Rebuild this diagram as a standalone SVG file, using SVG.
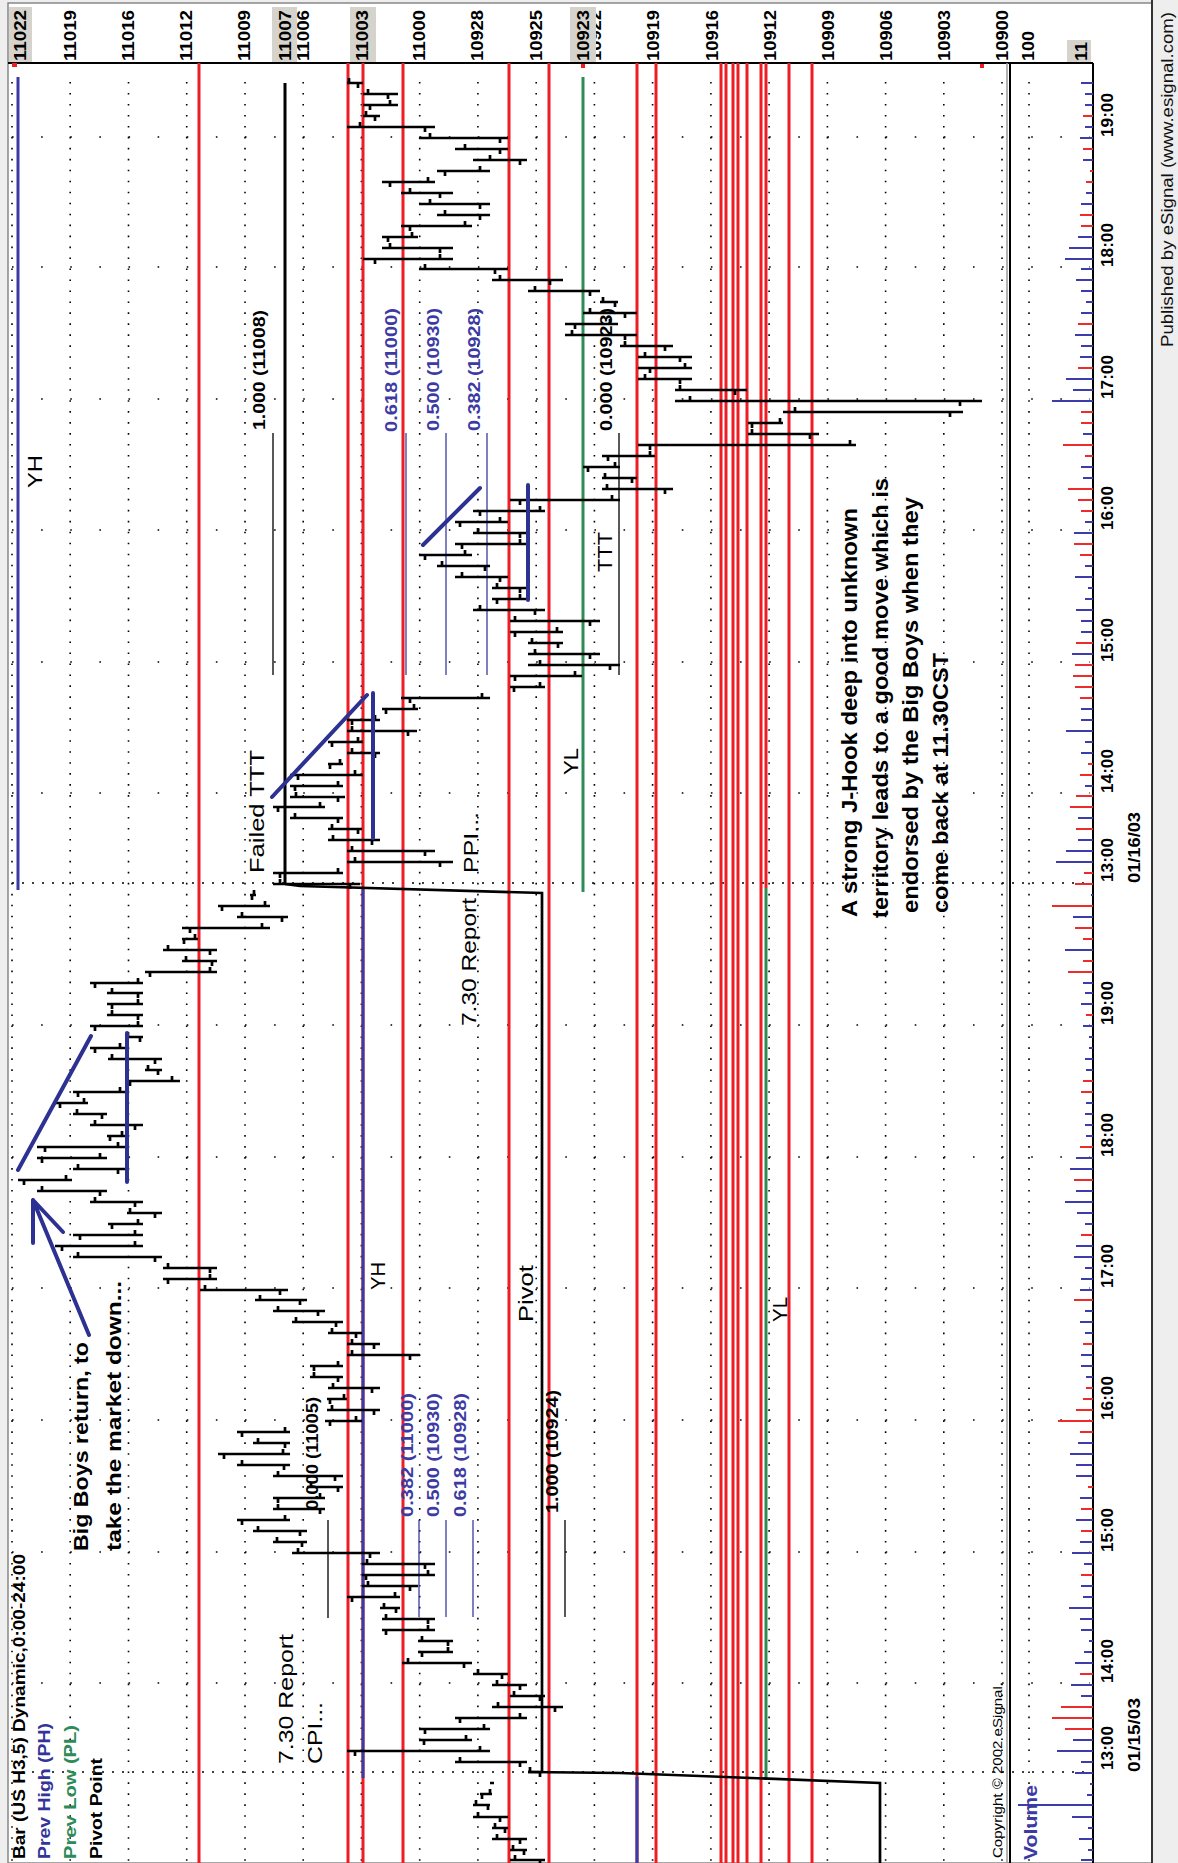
<svg xmlns="http://www.w3.org/2000/svg" width="1178" height="1863" viewBox="0 0 1178 1863">
<style>
.t{font-family:"Liberation Sans",Arial,sans-serif}
.b{font-weight:bold}
.ax{font-family:"Liberation Sans",Arial,sans-serif;font-weight:bold;font-size:17px;fill:#000}
.dots{stroke:#000;stroke-width:1.6;stroke-dasharray:1.6 9.37;fill:none}
.hr{stroke:#000;stroke-width:1.6;stroke-dasharray:1.6 27.52;fill:none}
.ses{stroke:#000;stroke-width:1.6;stroke-dasharray:2 8;fill:none}
.red{stroke:#ee1c25;stroke-width:3;fill:none}
.yh{stroke:#3b3ba3;stroke-width:3;fill:none}
.yl{stroke:#2e8b57;stroke-width:3;fill:none}
.bar{stroke:#000;stroke-width:2.7;fill:none}
.piv{stroke:#000;stroke-width:3;fill:none}
.fb{stroke:#3b3ba3;stroke-width:1.3;fill:none}
.fk{stroke:#000;stroke-width:1.3;fill:none}
.an{stroke:#2d3192;stroke-width:4;fill:none;stroke-linecap:round}
.vb{stroke:#3c3caa;stroke-width:2;fill:none}
.vr{stroke:#ee2b2b;stroke-width:2;fill:none}
.hl{fill:#d6d3cc}
</style>
<rect x="0" y="0" width="1178" height="1863" fill="#eeeeee"/>
<rect x="8" y="3" width="1144" height="1860" fill="#ffffff" stroke="#888" stroke-width="1.5"/>
<line x1="1152" y1="0" x2="1152" y2="1863" stroke="#333" stroke-width="2"/>

<g id="grid">
<path class="dots" d="M12 82V1863M70.2 82V1863M128.5 82V1863M186.7 82V1863M245 82V1863M303.2 82V1863M361.4 82V1863M419.7 82V1863M477.9 82V1863M536.2 82V1863M594.4 82V1863M652.6 82V1863M710.9 82V1863M769.1 82V1863M827.4 82V1863M885.6 82V1863M943.8 82V1863M1002 82V1863M1029 82V1863"/>
<path class="hr" d="M12 137H1090M12 267H1090M12 399H1090M12 530H1090M12 662H1090M12 793H1090M12 1025H1090M12 1157H1090M12 1288H1090M12 1420H1090M12 1552H1090M12 1683H1090"/>
<path class="ses" d="M12 883H1093M12 1772H1093"/>
</g>

<g id="panel-frame">
<line x1="8" y1="63" x2="1093" y2="63" stroke="#000" stroke-width="1.8"/>
<line x1="1007" y1="63" x2="1007" y2="1863" stroke="#999" stroke-width="1.5"/>
<line x1="1010" y1="63" x2="1010" y2="1863" stroke="#000" stroke-width="2"/>
<line x1="1093" y1="63" x2="1093" y2="1863" stroke="#000" stroke-width="2"/>
</g>

<g id="price-axis">
<rect class="hl" x="9" y="7" width="23" height="55"/>
<rect class="hl" x="350" y="7" width="26" height="55"/>
<rect class="hl" x="1067" y="40" width="24" height="22"/>
<text class="ax" transform="translate(26,61) rotate(-90)" textLength="51" lengthAdjust="spacingAndGlyphs">11022</text>
<text class="ax" transform="translate(76,61) rotate(-90)" textLength="51" lengthAdjust="spacingAndGlyphs">11019</text>
<text class="ax" transform="translate(134,61) rotate(-90)" textLength="51" lengthAdjust="spacingAndGlyphs">11016</text>
<text class="ax" transform="translate(192,61) rotate(-90)" textLength="51" lengthAdjust="spacingAndGlyphs">11012</text>
<text class="ax" transform="translate(250,61) rotate(-90)" textLength="51" lengthAdjust="spacingAndGlyphs">11009</text>
<text class="ax" transform="translate(309,61) rotate(-90)" textLength="51" lengthAdjust="spacingAndGlyphs">11006</text>
<rect class="hl" x="272" y="7" width="25" height="55"/>
<text class="ax" transform="translate(291,61) rotate(-90)" textLength="51" lengthAdjust="spacingAndGlyphs">11007</text>
<text class="ax" transform="translate(368,61) rotate(-90)" textLength="51" lengthAdjust="spacingAndGlyphs">11003</text>
<text class="ax" transform="translate(425,61) rotate(-90)" textLength="51" lengthAdjust="spacingAndGlyphs">11000</text>
<text class="ax" transform="translate(483,61) rotate(-90)" textLength="51" lengthAdjust="spacingAndGlyphs">10928</text>
<text class="ax" transform="translate(542,61) rotate(-90)" textLength="51" lengthAdjust="spacingAndGlyphs">10925</text>
<text class="ax" transform="translate(601,61) rotate(-90)" textLength="51" lengthAdjust="spacingAndGlyphs">10922</text>
<rect class="hl" x="570" y="7" width="26" height="55"/>
<text class="ax" transform="translate(589,61) rotate(-90)" textLength="51" lengthAdjust="spacingAndGlyphs">10923</text>
<text class="ax" transform="translate(659,61) rotate(-90)" textLength="51" lengthAdjust="spacingAndGlyphs">10919</text>
<text class="ax" transform="translate(718,61) rotate(-90)" textLength="51" lengthAdjust="spacingAndGlyphs">10916</text>
<text class="ax" transform="translate(776,61) rotate(-90)" textLength="51" lengthAdjust="spacingAndGlyphs">10912</text>
<text class="ax" transform="translate(834,61) rotate(-90)" textLength="51" lengthAdjust="spacingAndGlyphs">10909</text>
<text class="ax" transform="translate(892,61) rotate(-90)" textLength="51" lengthAdjust="spacingAndGlyphs">10906</text>
<text class="ax" transform="translate(950,61) rotate(-90)" textLength="51" lengthAdjust="spacingAndGlyphs">10903</text>
<text class="ax" transform="translate(1008,61) rotate(-90)" textLength="51" lengthAdjust="spacingAndGlyphs">10900</text>
<text class="ax" transform="translate(1034,61) rotate(-90)" textLength="30" lengthAdjust="spacingAndGlyphs">100</text>
<text class="ax" transform="translate(1087,61) rotate(-90)" textLength="19" lengthAdjust="spacingAndGlyphs">11</text>
<rect x="12" y="63" width="5" height="4" fill="#ee1c25"/>
<rect x="581" y="64" width="4" height="4" fill="#ee1c25"/>
<rect x="980" y="64" width="4" height="4" fill="#ee1c25"/>
</g>

<g id="levels">
<path class="red" d="M199 63V1863M348 63V1863M363 63V1863M403 63V1863M509 63V1863M549 63V1863M637 63V1863M656 63V1863M721 63V1863M726 63V1863M733 63V1863M738 63V1863M747 63V1863M789 63V1863"/>
<path class="red" stroke-width="4" d="M761 63V1863M812 63V1863"/>
<path class="red" d="M766 63V888"/>
<path class="yh" d="M18 77V890M363 888V1778"/>
<path class="yh" stroke-width="4" d="M637 1777V1863"/>
<path class="yl" d="M583 77V892M766 888V1780"/>
<path class="piv" d="M285 83V884"/>
<path class="bar" d="M285 884L300 886L542 893V1772"/>
<path class="bar" d="M528 1772L620 1773L700 1776L880 1783V1863"/>
</g>

<g id="fib">
<path class="fk" d="M273 433V675M619 433V675M328 1520V1618M565 1520V1617"/>
<path class="fb" d="M406 433V675M446 433V675M487 433V675M419 1520V1617M446 1520V1617M473 1520V1617"/>
</g>

<g id="volume">
<path class="vb" d="M1093 83h-12M1093 94h-8M1093 105h-8M1093 127h-8M1093 138h-13M1093 160h-10M1093 193h-7M1093 204h-12M1093 237h-15M1093 248h-24M1093 259h-28M1093 269h-12M1093 280h-17M1093 291h-12M1093 302h-7M1093 313h-12M1093 335h-18M1093 346h-12M1093 357h-13M1093 379h-27M1093 390h-20M1093 401h-41M1093 434h-10M1093 467h-12M1093 478h-10M1093 522h-8M1093 533h-19M1093 566h-8M1093 577h-18M1093 588h-5M1093 599h-8M1093 610h-17M1093 621h-12M1093 632h-12M1093 654h-21M1093 709h-12M1093 720h-12M1093 731h-27M1093 742h-8M1093 753h-12M1093 786h-8M1093 818h-15M1093 840h-15M1093 851h-27M1093 862h-37M1093 895h-2M1093 917h-20M1093 950h-28M1093 983h-10M1093 993h-8M1093 1004h-12M1093 1026h-10M1093 1037h-4M1093 1048h-4M1093 1059h-8M1093 1070h-7M1093 1103h-7M1093 1114h-8M1093 1125h-8M1093 1136h-7M1093 1158h-17M1093 1169h-23M1093 1191h-17M1093 1202h-28M1093 1213h-16M1093 1224h-8M1093 1246h-17M1093 1257h-19M1093 1268h-8M1093 1279h-12M1093 1290h-13M1093 1311h-8M1093 1322h-13M1093 1333h-8M1093 1355h-12M1093 1366h-12M1093 1377h-7M1093 1443h-15M1093 1454h-23M1093 1465h-17M1093 1476h-17M1093 1498h-13M1093 1520h-17M1093 1542h-13M1093 1553h-21M1093 1564h-9M1093 1586h-12M1093 1597h-10M1093 1608h-24M1093 1619h-13M1093 1630h-12M1093 1641h-4M1093 1652h-9M1093 1663h-18M1093 1685h-22M1093 1696h-12M1093 1740h-20M1093 1751h-36M1093 1762h-12M1093 1773h-18M1093 1784h-3M1093 1795h-6M1093 1805h-75M1093 1817h-21M1093 1828h-5M1093 1839h-14M1093 1850h-5M1093 1860h-12"/>
<path class="vr" d="M1093 116h-10M1093 149h-10M1093 171h-3M1093 182h-7M1093 215h-13M1093 226h-12M1093 324h-15M1093 368h-15M1093 412h-12M1093 423h-12M1093 445h-30M1093 456h-8M1093 489h-25M1093 500h-15M1093 511h-12M1093 544h-19M1093 555h-13M1093 643h-17M1093 665h-18M1093 676h-20M1093 687h-18M1093 698h-13M1093 764h-5M1093 775h-13M1093 796h-17M1093 807h-23M1093 829h-17M1093 873h-9M1093 884h-18M1093 906h-41M1093 928h-18M1093 939h-10M1093 961h-10M1093 972h-25M1093 1015h-7M1093 1081h-10M1093 1092h-12M1093 1147h-13M1093 1180h-19M1093 1235h-12M1093 1300h-19M1093 1344h-10M1093 1388h-7M1093 1399h-10M1093 1410h-17M1093 1421h-35M1093 1432h-13M1093 1487h-5M1093 1509h-12M1093 1531h-12M1093 1575h-12M1093 1674h-13M1093 1707h-32M1093 1718h-41M1093 1729h-28"/>
</g>

<g id="bars">
<path class="bar" d="M347 83H363M358 83v5M349 83v-5M363 94H398M388 94v5M368 94v-5M363 105H398M370 105v5M390 105v-5M363 116H380M375 116v5M366 116v-5M347 127H435M425 127v5M360 127v-5M419 138H508M500 138v5M430 138v-5M455 149H508M500 149v5M465 149v-5M473 160H527M520 160v5M490 160v-5M437 171H490M445 171v5M480 171v-5M382 182H435M390 182v5M428 182v-5M401 193H453M440 193v5M410 193v-5M419 204H490M480 204v5M430 204v-5M437 215H490M480 215v5M445 215v-5M401 226H472M410 226v5M465 226v-5M382 237H418M388 237v5M412 237v-5M382 248H453M440 248v5M390 248v-5M363 259H453M375 259v5M440 259v-5M419 269H508M495 269v5M425 269v-5M492 280H563M550 280v5M500 280v-5M528 291H600M590 291v5M535 291v-5M600 302H618M615 302v5M603 302v-5M583 313H637M625 313v5M590 313v-5M565 324H618M575 324v5M610 324v-5M565 335H637M625 335v5M572 335v-5M620 346H673M665 346v5M625 346v-5M638 357H692M680 357v5M645 357v-5M638 368H692M650 368v5M685 368v-5M638 379H692M680 379v5M645 379v-5M675 390H747M735 390v5M680 390v-5M675 401H982M960 401v5M690 401v-5M783 412H963M950 412v5M795 412v-5M748 423H783M752 423v5M780 423v-5M748 434H819M810 434v5M752 434v-5M638 445H856M650 445v5M850 445v-5M602 456H655M608 456v5M650 456v-5M583 467H620M588 467v5M615 467v-5M602 478H637M632 478v5M605 478v-5M602 489H673M665 489v5M607 489v-5M510 500H620M520 500v5M612 500v-5M473 511H545M480 511v5M540 511v-5M455 522H508M460 522v5M500 522v-5M473 533H527M520 533v5M478 533v-5M455 544H527M462 544v5M520 544v-5M419 555H472M425 555v5M465 555v-5M437 566H490M485 566v5M442 566v-5M455 577H508M500 577v5M462 577v-5M492 588H527M520 588v5M497 588v-5M492 599H527M497 599v5M520 599v-5M473 610H545M535 610v5M480 610v-5M510 621H600M590 621v5M515 621v-5M510 632H563M515 632v5M557 632v-5M528 643H563M558 643v5M532 643v-5M528 654H600M590 654v5M535 654v-5M528 665H620M610 665v5M540 665v-5M510 676H582M515 676v5M575 676v-5M510 687H545M514 687v5M540 687v-5M401 698H490M410 698v5M482 698v-5M382 709H418M386 709v5M414 709v-5M347 720H380M352 720v5M375 720v-5M347 731H417M408 731v5M352 731v-5M328 742H363M332 742v5M358 742v-5M347 753H380M375 753v5M352 753v-5M328 764H343M330 764v5M340 764v-5M290 775H363M298 775v5M355 775v-5M290 786H343M295 786v5M338 786v-5M290 797H345M338 797v5M296 797v-5M273 807H325M278 807v5M320 807v-5M290 818H343M338 818v5M295 818v-5M328 829H362M358 829v5M332 829v-5M328 840H380M372 840v5M333 840v-5M347 851H435M425 851v5M352 851v-5M347 862H453M440 862v5M355 862v-5M273 873H343M280 873v5M338 873v-5M273 884H360M350 884v5M280 884v-5"/>
<path class="bar" d="M250 895H256M252 895v5M254 895v-5M218 906H270M222 906v5M265 906v-5M237 917H288M282 917v5M242 917v-5M182 928H270M190 928v5M262 928v-5M182 939H198M184 939v5M195 939v-5M163 950H217M210 950v5M168 950v-5M182 961H217M212 961v5M186 961v-5M145 972H217M150 972v5M210 972v-5M90 983H143M95 983v5M138 983v-5M107 993H143M138 993v5M112 993v-5M107 1004H143M112 1004v5M138 1004v-5M107 1015H143M138 1015v5M112 1015v-5M90 1026H143M95 1026v5M138 1026v-5M125 1037H143M140 1037v5M128 1037v-5M90 1048H125M95 1048v5M120 1048v-5M108 1059H162M155 1059v5M112 1059v-5M145 1070H162M158 1070v5M148 1070v-5M125 1081H180M130 1081v5M172 1081v-5M73 1092H125M78 1092v5M120 1092v-5M55 1103H88M60 1103v5M84 1103v-5M73 1114H107M102 1114v5M77 1114v-5M90 1125H143M135 1125v5M95 1125v-5M107 1136H125M110 1136v5M122 1136v-5M37 1147H125M45 1147v5M118 1147v-5M37 1158H107M42 1158v5M100 1158v-5M73 1169H125M118 1169v5M78 1169v-5M18 1180H72M24 1180v5M66 1180v-5M37 1191H107M100 1191v5M42 1191v-5M90 1202H143M135 1202v5M95 1202v-5M127 1213H162M155 1213v5M130 1213v-5M108 1224H143M112 1224v5M138 1224v-5M73 1235H143M80 1235v5M135 1235v-5M55 1246H143M62 1246v5M135 1246v-5M73 1257H162M155 1257v5M78 1257v-5M163 1268H217M210 1268v5M168 1268v-5M163 1279H217M168 1279v5M210 1279v-5M200 1290H288M280 1290v5M205 1290v-5M255 1300H307M300 1300v5M260 1300v-5M273 1311H325M318 1311v5M278 1311v-5M292 1322H343M336 1322v5M296 1322v-5M328 1333H362M356 1333v5M332 1333v-5M347 1344H380M374 1344v5M352 1344v-5M347 1355H420M410 1355v5M352 1355v-5M310 1366H343M314 1366v5M338 1366v-5M310 1377H343M338 1377v5M314 1377v-5M328 1388H380M372 1388v5M333 1388v-5M327 1399H347M330 1399v5M344 1399v-5M327 1410H380M374 1410v5M332 1410v-5M325 1421H362M330 1421v5M356 1421v-5M237 1432H290M242 1432v5M285 1432v-5M253 1443H290M285 1443v5M258 1443v-5M218 1454H290M224 1454v5M283 1454v-5M237 1465H290M284 1465v5M242 1465v-5M273 1476H343M335 1476v5M278 1476v-5M307 1487H343M338 1487v5M311 1487v-5M273 1498H325M278 1498v5M320 1498v-5M273 1509H325M320 1509v5M278 1509v-5M237 1520H290M242 1520v5M285 1520v-5M253 1531H307M300 1531v5M258 1531v-5M273 1542H307M302 1542v5M277 1542v-5M292 1553H380M370 1553v5M298 1553v-5M362 1564H435M425 1564v5M367 1564v-5M362 1575H435M366 1575v5M428 1575v-5M362 1586H418M410 1586v5M368 1586v-5M347 1597H400M352 1597v5M395 1597v-5M380 1608H400M396 1608v5M384 1608v-5M382 1619H435M428 1619v5M386 1619v-5M382 1630H435M386 1630v5M428 1630v-5M418 1641H453M448 1641v5M422 1641v-5M418 1652H453M422 1652v5M448 1652v-5M402 1663H472M464 1663v5M408 1663v-5M473 1674H508M502 1674v5M478 1674v-5M492 1685H527M520 1685v5M497 1685v-5M510 1696H545M540 1696v5M514 1696v-5M492 1707H563M555 1707v5M498 1707v-5M455 1718H527M460 1718v5M520 1718v-5M419 1729H490M425 1729v5M484 1729v-5M419 1740H472M424 1740v5M466 1740v-5M347 1751H490M355 1751v5M480 1751v-5M455 1762H527M520 1762v5M460 1762v-5M528 1772H542M540 1772v5M530 1772v-5"/>
<path class="bar" d="M490 1783H494M480 1794H492M482 1794v5M490 1794v-5M473 1805H490M488 1805v5M476 1805v-5M473 1817H508M500 1817v5M478 1817v-5M492 1828H508M505 1828v5M495 1828v-5M492 1839H527M520 1839v5M497 1839v-5M510 1850H527M524 1850v5M513 1850v-5M510 1860H545M540 1860v5M515 1860v-5"/>
</g>

<g id="annotation-lines">
<path class="an" d="M272 797L367 695M373 693V838M423 545L480 488M528 485V600M18 1170L91 1036M127 1033V1182"/>
<path class="an" d="M89 1335L33 1200M33 1200V1243M33 1200L63 1232"/>
</g>

<g id="legend" class="t b">
<text font-size="16" fill="#000" transform="translate(25,1859) rotate(-90)" textLength="305" lengthAdjust="spacingAndGlyphs">Bar (US H3,5) Dynamic,0:00-24:00</text>
<text font-size="16" fill="#33339a" transform="translate(50,1859) rotate(-90)" textLength="136" lengthAdjust="spacingAndGlyphs">Prev High (PH)</text>
<text font-size="16" fill="#2e8b57" transform="translate(76,1859) rotate(-90)" textLength="134" lengthAdjust="spacingAndGlyphs">Prev Low (PL)</text>
<text font-size="16" fill="#000" transform="translate(102,1859) rotate(-90)" textLength="101" lengthAdjust="spacingAndGlyphs">Pivot Point</text>
</g>

<g id="fib-labels" class="t b" font-size="16">
<text fill="#000" transform="translate(265,430) rotate(-90)" textLength="120" lengthAdjust="spacingAndGlyphs">1.000 (11008)</text>
<text fill="#3b3ba3" transform="translate(397,432) rotate(-90)" textLength="124" lengthAdjust="spacingAndGlyphs">0.618 (11000)</text>
<text fill="#3b3ba3" transform="translate(439,431) rotate(-90)" textLength="123" lengthAdjust="spacingAndGlyphs">0.500 (10930)</text>
<text fill="#3b3ba3" transform="translate(480,431) rotate(-90)" textLength="123" lengthAdjust="spacingAndGlyphs">0.382 (10928)</text>
<text fill="#000" transform="translate(612,431) rotate(-90)" textLength="123" lengthAdjust="spacingAndGlyphs">0.000 (10923)</text>
<text fill="#3b3ba3" transform="translate(413,1517) rotate(-90)" textLength="124" lengthAdjust="spacingAndGlyphs">0.382 (11000)</text>
<text fill="#3b3ba3" transform="translate(439,1517) rotate(-90)" textLength="124" lengthAdjust="spacingAndGlyphs">0.500 (10930)</text>
<text fill="#3b3ba3" transform="translate(466,1517) rotate(-90)" textLength="124" lengthAdjust="spacingAndGlyphs">0.618 (10928)</text>
<text fill="#000" transform="translate(558,1513) rotate(-90)" textLength="123" lengthAdjust="spacingAndGlyphs">1.000 (10924)</text>
<text fill="#000" transform="translate(318,1510) rotate(-90)" textLength="113" lengthAdjust="spacingAndGlyphs">0.000 (11005)</text>
</g>

<g id="notes" class="t" fill="#000">
<text class="b" font-size="20" transform="translate(88,1551) rotate(-90)" textLength="209" lengthAdjust="spacingAndGlyphs">Big Boys return, to</text>
<text class="b" font-size="20" transform="translate(121,1551) rotate(-90)" textLength="270" lengthAdjust="spacingAndGlyphs">take the market down...</text>
<text font-size="20" transform="translate(293,1764) rotate(-90)" textLength="130" lengthAdjust="spacingAndGlyphs">7.30 Report</text>
<text font-size="20" transform="translate(322,1764) rotate(-90)" textLength="62" lengthAdjust="spacingAndGlyphs">CPI...</text>
<text font-size="20" transform="translate(476,1026) rotate(-90)" textLength="128" lengthAdjust="spacingAndGlyphs">7.30 Report</text>
<text font-size="20" transform="translate(478,873) rotate(-90)" textLength="61" lengthAdjust="spacingAndGlyphs">PPI...</text>
<text font-size="20" transform="translate(264,873) rotate(-90)" textLength="123" lengthAdjust="spacingAndGlyphs">Failed TTT</text>
<text font-size="20" transform="translate(612,572) rotate(-90)" textLength="40" lengthAdjust="spacingAndGlyphs">TTT</text>
<text font-size="20" transform="translate(533,1322) rotate(-90)" textLength="57" lengthAdjust="spacingAndGlyphs">Pivot</text>
<text font-size="20" transform="translate(42,488) rotate(-90)" textLength="33" lengthAdjust="spacingAndGlyphs">YH</text>
<text font-size="20" transform="translate(385,1290) rotate(-90)" textLength="28" lengthAdjust="spacingAndGlyphs">YH</text>
<text font-size="20" transform="translate(578,775) rotate(-90)" textLength="27" lengthAdjust="spacingAndGlyphs">YL</text>
<text font-size="20" transform="translate(787,1322) rotate(-90)" textLength="25" lengthAdjust="spacingAndGlyphs">YL</text>
<text class="b" font-size="22" transform="translate(857,917) rotate(-90)" textLength="409" lengthAdjust="spacingAndGlyphs">A strong J-Hook deep into unknown</text>
<text class="b" font-size="22" transform="translate(888,918) rotate(-90)" textLength="440" lengthAdjust="spacingAndGlyphs">territory leads to a good move which is</text>
<text class="b" font-size="22" transform="translate(918,913) rotate(-90)" textLength="416" lengthAdjust="spacingAndGlyphs">endorsed by the Big Boys when they</text>
<text class="b" font-size="22" transform="translate(948,913) rotate(-90)" textLength="260" lengthAdjust="spacingAndGlyphs">come back at 11.30CST</text>
<text font-size="13" transform="translate(1002,1858) rotate(-90)" textLength="176" lengthAdjust="spacingAndGlyphs">Copyright © 2002 eSignal.</text>
<text class="b" font-size="18" fill="#3b3ba3" transform="translate(1037,1860) rotate(-90)" textLength="75" lengthAdjust="spacingAndGlyphs">Volume</text>
<text font-size="16" fill="#111" transform="translate(1173,347) rotate(-90)" textLength="335" lengthAdjust="spacingAndGlyphs">Published by eSignal (www.esignal.com)</text>
</g>

<g id="time-axis">
<text class="ax" transform="translate(1113,882) rotate(-90)" textLength="44" lengthAdjust="spacingAndGlyphs">13:00</text>
<text class="ax" transform="translate(1113,793) rotate(-90)" textLength="44" lengthAdjust="spacingAndGlyphs">14:00</text>
<text class="ax" transform="translate(1113,662) rotate(-90)" textLength="44" lengthAdjust="spacingAndGlyphs">15:00</text>
<text class="ax" transform="translate(1113,530) rotate(-90)" textLength="44" lengthAdjust="spacingAndGlyphs">16:00</text>
<text class="ax" transform="translate(1113,399) rotate(-90)" textLength="44" lengthAdjust="spacingAndGlyphs">17:00</text>
<text class="ax" transform="translate(1113,267) rotate(-90)" textLength="44" lengthAdjust="spacingAndGlyphs">18:00</text>
<text class="ax" transform="translate(1113,137) rotate(-90)" textLength="44" lengthAdjust="spacingAndGlyphs">19:00</text>
<text class="ax" transform="translate(1113,1770) rotate(-90)" textLength="44" lengthAdjust="spacingAndGlyphs">13:00</text>
<text class="ax" transform="translate(1113,1683) rotate(-90)" textLength="44" lengthAdjust="spacingAndGlyphs">14:00</text>
<text class="ax" transform="translate(1113,1552) rotate(-90)" textLength="44" lengthAdjust="spacingAndGlyphs">15:00</text>
<text class="ax" transform="translate(1113,1420) rotate(-90)" textLength="44" lengthAdjust="spacingAndGlyphs">16:00</text>
<text class="ax" transform="translate(1113,1288) rotate(-90)" textLength="44" lengthAdjust="spacingAndGlyphs">17:00</text>
<text class="ax" transform="translate(1113,1157) rotate(-90)" textLength="44" lengthAdjust="spacingAndGlyphs">18:00</text>
<text class="ax" transform="translate(1113,1025) rotate(-90)" textLength="44" lengthAdjust="spacingAndGlyphs">19:00</text>
<text class="ax" transform="translate(1140,883) rotate(-90)" textLength="71" lengthAdjust="spacingAndGlyphs">01/16/03</text>
<text class="ax" transform="translate(1140,1772) rotate(-90)" textLength="74" lengthAdjust="spacingAndGlyphs">01/15/03</text>
</g>
</svg>
